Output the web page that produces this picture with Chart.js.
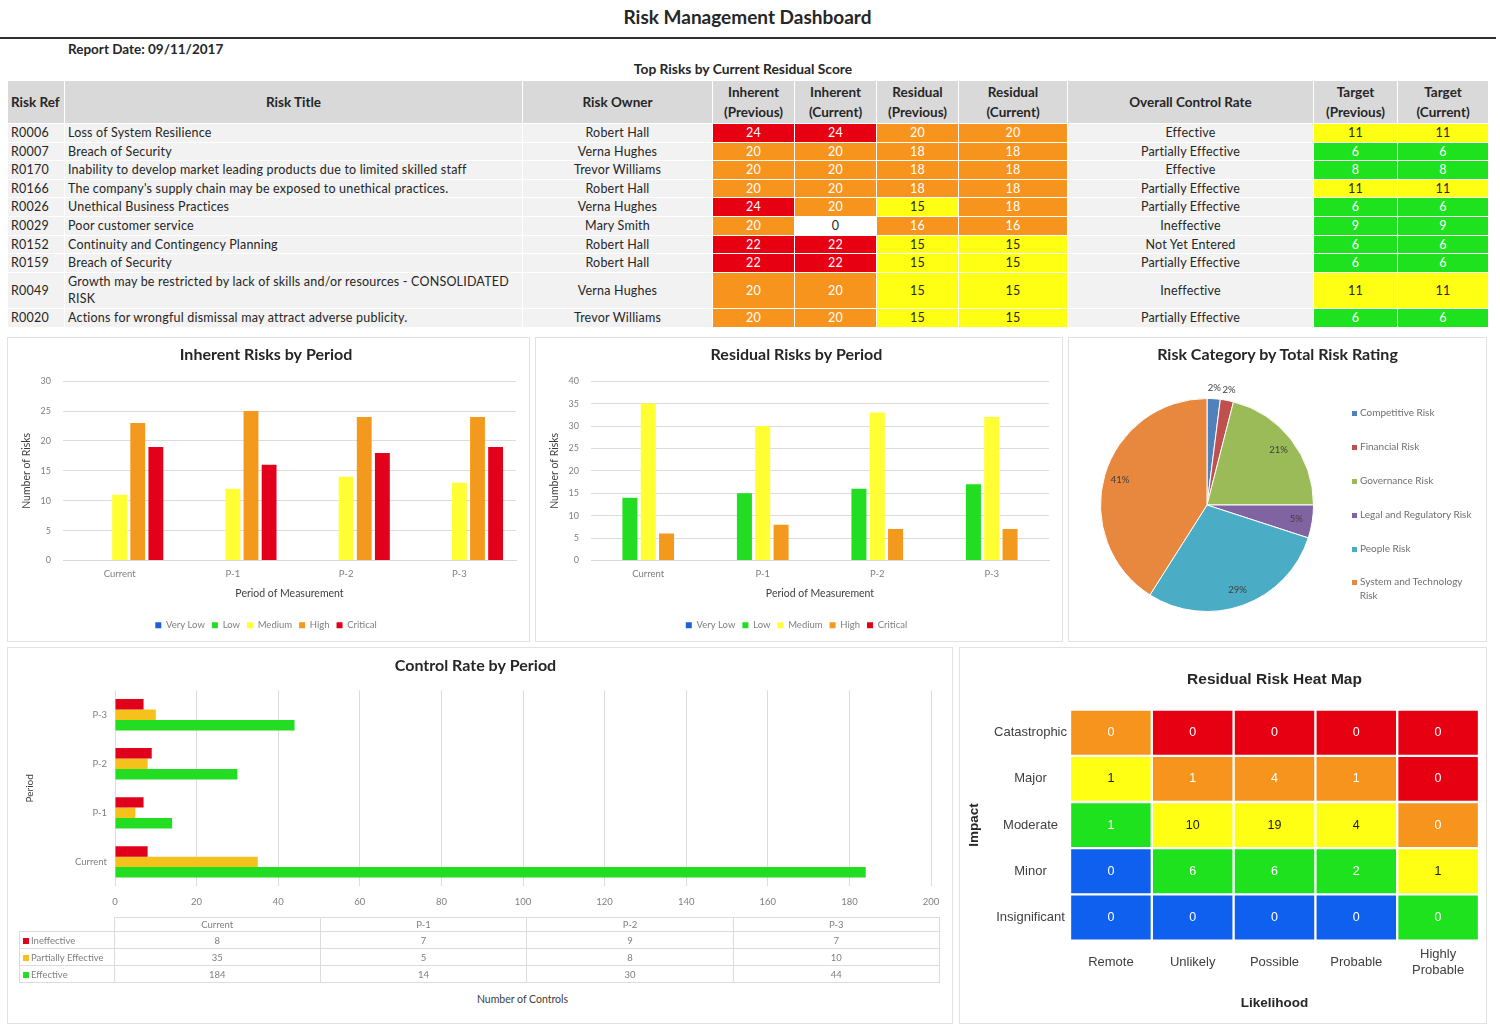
<!DOCTYPE html>
<html lang="en">
<head>
<meta charset="utf-8">
<title>Risk Management Dashboard</title>
<script src="https://cdn.jsdelivr.net/npm/chart.js@4.4.1/dist/chart.umd.min.js"></script>
<style>
  html, body { margin: 0; padding: 0; background: #fff; }
  body { width: 1500px; height: 1032px; position: relative; overflow: hidden;
         font-family: Lato, "Open Sans", sans-serif; color: #262626; }
  .abs { position: absolute; }
  .panel { position: absolute; border: 1px solid #e2e2e2; box-sizing: border-box; background: #fff; }
  .panel canvas { display: block; }
  #mainTitle { left: 0; top: 5px; width: 1495px; text-align: center; font-size: 19px; font-weight: bold; }
  #rule { left: 0; top: 37px; width: 1496px; height: 2px; background: #303030; }
  #reportDate { left: 68px; top: 41px; font-size: 13.5px; font-weight: bold; }
  #tableTitle { left: 0; top: 60px; width: 1486px; text-align: center; font-size: 13.8px; font-weight: bold; }
  #riskTable { left: 7px; top: 80px; width: 1481px; border-collapse: collapse; table-layout: fixed;
               font-size: 12.5px; letter-spacing: 0.2px; }
  #riskTable th { background: #d9d9d9; border: 1px solid #fff; font-weight: bold; line-height: 20px;
                  height: 42px; padding: 0 2px; font-size: 13.5px; letter-spacing: 0; text-align: center; }
  #riskTable th.ref { text-align: left; padding-left: 3px; }
  #riskTable td { background: #f2f2f2; border: 1px solid #fff; line-height: 17.6px; padding: 0 3px;
                  text-align: center; }
  #riskTable td.ref { text-align: left; }
  #riskTable td.title { text-align: left; padding-right: 1px; }
  #ctlTable { left: 19px; top: 917px; width: 921px; border-collapse: collapse; table-layout: fixed;
              font-size: 9.5px; color: #7f7f7f; }
  #ctlTable td { border: 1px solid #dcdcdc; height: 16px; padding: 0; text-align: center; }
  #ctlTable tr.hd td { height: 13px; }
  #ctlTable td.lab { text-align: left; padding-left: 3px; white-space: nowrap; }
  #ctlTable td.blank { border: none; border-right: 1px solid #dcdcdc; }
  .sw { display: inline-block; width: 6px; height: 6px; margin-right: 2px; }
  #ctlAxisTitle { left: 114px; width: 817px; top: 993px; text-align: center; font-size: 10.5px; color: #404040; }
  #pieTitle { left: 1068px; width: 419px; top: 344px; text-align: center; font-size: 16px; font-weight: bold; }
  .pieLeg { position: absolute; left: 1352px; font-size: 10px; color: #6f6f6f; line-height: 14px; width: 135px; }
  .pieLeg .sw { width: 5px; height: 5px; margin-right: 3px; }
</style>
</head>
<body>
<div id="mainTitle" class="abs">Risk Management Dashboard</div>
<div id="rule" class="abs"></div>
<div id="reportDate" class="abs">Report Date: 09/11/2017</div>
<div id="tableTitle" class="abs">Top Risks by Current Residual Score</div>

<table id="riskTable" class="abs">
  <colgroup>
    <col style="width:57px"><col style="width:458px"><col style="width:190px">
    <col style="width:82px"><col style="width:82px"><col style="width:82px"><col style="width:109px">
    <col style="width:246px"><col style="width:84px"><col style="width:91px">
  </colgroup>
  <thead>
    <tr>
      <th class="ref">Risk Ref</th><th>Risk Title</th><th>Risk Owner</th>
      <th>Inherent<br>(Previous)</th><th>Inherent<br>(Current)</th>
      <th>Residual<br>(Previous)</th><th>Residual<br>(Current)</th>
      <th>Overall Control Rate</th><th>Target<br>(Previous)</th><th>Target<br>(Current)</th>
    </tr>
  </thead>
  <tbody></tbody>
</table>

<div class="panel" style="left:7px;top:337px;width:523px;height:305px;"><canvas id="inherentChart"></canvas></div>
<div class="panel" style="left:535px;top:337px;width:528px;height:305px;"><canvas id="residualChart"></canvas></div>
<div class="panel" style="left:1068px;top:337px;width:419px;height:305px;"><canvas id="pieChart"></canvas></div>
<div id="pieTitle" class="abs">Risk Category by Total Risk Rating</div>
<div id="pieLegend"></div>
<div class="panel" style="left:7px;top:647px;width:946px;height:377px;">
  <div style="position:absolute;left:0;top:0;width:944px;height:270px;"><canvas id="controlChart"></canvas></div>
</div>
<table id="ctlTable" class="abs"><tbody></tbody></table>
<div id="ctlAxisTitle" class="abs">Number of Controls</div>
<div class="panel" style="left:959px;top:647px;width:528px;height:377px;"><canvas id="heatChart"></canvas></div>

<script>
// ---- top risks table ----
const riskRefs = ['R0006', 'R0007', 'R0170', 'R0166', 'R0026', 'R0029', 'R0152', 'R0159', 'R0049', 'R0020'];
const riskTitles = [
  'Loss of System Resilience',
  'Breach of Security',
  'Inability to develop market leading products due to limited skilled staff',
  "The company's supply chain may be exposed to unethical practices.",
  'Unethical Business Practices',
  'Poor customer service',
  'Continuity and Contingency Planning',
  'Breach of Security',
  'Growth may be restricted by lack of skills and/or resources - CONSOLIDATED RISK',
  'Actions for wrongful dismissal may attract adverse publicity.'
];
const riskOwners = ['Robert Hall', 'Verna Hughes', 'Trevor Williams', 'Robert Hall', 'Verna Hughes',
  'Mary Smith', 'Robert Hall', 'Robert Hall', 'Verna Hughes', 'Trevor Williams'];
const inherentPrev = [24, 20, 20, 20, 24, 20, 22, 22, 20, 20];
const inherentCur = [24, 20, 20, 20, 20, 0, 22, 22, 20, 20];
const residualPrev = [20, 18, 18, 18, 15, 16, 15, 15, 15, 15];
const residualCur = [20, 18, 18, 18, 18, 16, 15, 15, 15, 15];
const controlRates = ['Effective', 'Partially Effective', 'Effective', 'Partially Effective', 'Partially Effective',
  'Ineffective', 'Not Yet Entered', 'Partially Effective', 'Ineffective', 'Partially Effective'];
const targetPrev = [11, 6, 8, 11, 6, 9, 6, 6, 11, 6];
const targetCur = [11, 6, 8, 11, 6, 9, 6, 6, 11, 6];

// ---- risks by period ----
const periods = ['Current', 'P-1', 'P-2', 'P-3'];
const levels = ['Very Low', 'Low', 'Medium', 'High', 'Critical'];
const inherentVeryLow = [0, 0, 0, 0];
const inherentLow = [0, 0, 0, 0];
const inherentMedium = [11, 12, 14, 13];
const inherentHigh = [23, 25, 24, 24];
const inherentCritical = [19, 16, 18, 19];
const residualVeryLow = [0, 0, 0, 0];
const residualLow = [14, 15, 16, 17];
const residualMedium = [35, 30, 33, 32];
const residualHigh = [6, 8, 7, 7];
const residualCritical = [0, 0, 0, 0];

// ---- risk category (percent of total) ----
const categories = ['Competitive Risk', 'Financial Risk', 'Governance Risk', 'Legal and Regulatory Risk',
  'People Risk', 'System and Technology Risk'];
const categoryShare = [2, 2, 21, 5, 29, 41];

// ---- control rate ----
const controlSeries = ['Ineffective', 'Partially Effective', 'Effective'];
const ineffective = [8, 7, 9, 7];
const partiallyEffective = [35, 5, 8, 10];
const effective = [184, 14, 30, 44];

// ---- heat map ----
const likelihoods = ['Remote', 'Unlikely', 'Possible', 'Probable', 'Highly Probable'];
const impacts = ['Catastrophic', 'Major', 'Moderate', 'Minor', 'Insignificant'];
const heatCounts = [
  [0, 0, 0, 0, 0],
  [1, 1, 4, 1, 0],
  [1, 10, 19, 4, 0],
  [0, 6, 6, 2, 1],
  [0, 0, 0, 0, 0]
];
// rating: 0 very low, 1 low, 2 medium, 3 high, 4 critical
const heatRatings = [
  [3, 4, 4, 4, 4],
  [2, 3, 3, 3, 4],
  [1, 2, 2, 2, 3],
  [0, 1, 1, 1, 2],
  [0, 0, 0, 0, 1]
];

const levelColors = ['#1f5fd8', '#22dd22', '#ffff33', '#f39a1e', '#e3001b'];
const cellColors = ['#1060f0', '#1ee21e', '#ffff14', '#f7941d', '#e60012'];
const pieColors = ['#4f81bd', '#c0504d', '#9bbb59', '#8064a2', '#4bacc6', '#e8873e'];
const controlColors = ['#e0001b', '#f5c21c', '#22dd22'];

function scoreRating(v) {
  if (v >= 21) return 4;
  if (v >= 16) return 3;
  if (v >= 10) return 2;
  if (v >= 1) return 1;
  return -1;
}

// build the top risk table
const tbody = document.querySelector('#riskTable tbody');
riskRefs.forEach((ref, i) => {
  const tr = document.createElement('tr');
  const cells = [
    { text: ref, cls: 'ref' },
    { text: riskTitles[i], cls: 'title' },
    { text: riskOwners[i] },
    { score: inherentPrev[i] }, { score: inherentCur[i] },
    { score: residualPrev[i] }, { score: residualCur[i] },
    { text: controlRates[i] },
    { score: targetPrev[i] }, { score: targetCur[i] }
  ];
  cells.forEach(c => {
    const td = document.createElement('td');
    if (c.cls) td.className = c.cls;
    if (c.score !== undefined) {
      td.textContent = c.score;
      const r = scoreRating(c.score);
      if (r < 0) {
        td.style.background = '#ffffff';
      } else {
        td.style.background = cellColors[r];
        td.style.color = r === 2 ? '#262626' : '#ffffff';
      }
    } else {
      td.textContent = c.text;
    }
    tr.appendChild(td);
  });
  tbody.appendChild(tr);
});

// control data table
const ctlBody = document.querySelector('#ctlTable tbody');
let rowsHtml = '<tr class="hd"><td class="blank" style="width:94px"></td>' +
  periods.map(p => '<td>' + p + '</td>').join('') + '</tr>';
[ineffective, partiallyEffective, effective].forEach((vals, k) => {
  rowsHtml += '<tr><td class="lab"><span class="sw" style="background:' + controlColors[k] + '"></span>' +
    controlSeries[k] + '</td>' + vals.map(v => '<td>' + v + '</td>').join('') + '</tr>';
});
ctlBody.innerHTML = rowsHtml;

// pie legend
const legY = [405, 439, 473, 507, 541, 574];
document.getElementById('pieLegend').innerHTML = categories.map((c, i) =>
  '<div class="pieLeg" style="top:' + legY[i] + 'px"><span class="sw" style="background:' + pieColors[i] +
  '"></span>' + (i === 5 ? 'System and Technology<br>&nbsp;&nbsp;&nbsp;Risk' : c) + '</div>').join('');

Chart.defaults.font.family = 'Lato, "Open Sans", sans-serif';
Chart.defaults.color = '#7f7f7f';
Chart.defaults.animation = false;

function riskBarChart(id, title, series, yMax) {
  new Chart(document.getElementById(id), {
    type: 'bar',
    data: {
      labels: periods,
      datasets: levels.map((l, i) => ({
        label: l,
        data: series[i],
        backgroundColor: levelColors[i],
        categoryPercentage: 0.8,
        barPercentage: 0.82
      }))
    },
    options: {
      responsive: true,
      maintainAspectRatio: false,
      layout: { padding: { left: 8, right: 13, top: 3, bottom: 1 } },
      plugins: {
        title: { display: true, text: title, color: '#262626', font: { size: 16, weight: 'bold' },
                 padding: { top: 4, bottom: 17 } },
        legend: { position: 'bottom',
                  labels: { boxWidth: 6, boxHeight: 6, font: { size: 9.5 }, color: '#7f7f7f', padding: 7 } },
        tooltip: { enabled: false }
      },
      scales: {
        x: {
          grid: { display: false, drawTicks: false },
          border: { color: '#d9d9d9' },
          ticks: { font: { size: 9.5 }, color: '#7f7f7f', padding: 7.5 },
          title: { display: true, text: 'Period of Measurement', color: '#404040', font: { size: 10.5 },
                   padding: { top: 0, bottom: 14 } }
        },
        y: {
          min: 0, max: yMax,
          ticks: { stepSize: 5, font: { size: 9 }, color: '#7f7f7f', padding: 12 },
          grid: { color: '#dcdcdc', drawTicks: false },
          border: { display: false },
          title: { display: true, text: 'Number of Risks', color: '#404040', font: { size: 10.5 } },
          afterFit: s => { s.width = 47; }
        }
      }
    }
  });
}

riskBarChart('inherentChart', 'Inherent Risks by Period',
  [inherentVeryLow, inherentLow, inherentMedium, inherentHigh, inherentCritical], 30);
riskBarChart('residualChart', 'Residual Risks by Period',
  [residualVeryLow, residualLow, residualMedium, residualHigh, residualCritical], 40);

// pie
const pieLabels = {
  id: 'pieLabels',
  afterDatasetsDraw(chart) {
    const ctx = chart.ctx;
    const meta = chart.getDatasetMeta(0);
    const vals = chart.data.datasets[0].data;
    const total = vals.reduce((a, b) => a + b, 0);
    ctx.save();
    ctx.font = '9.5px Lato';
    ctx.fillStyle = '#404040';
    ctx.textAlign = 'center';
    ctx.textBaseline = 'middle';
    meta.data.forEach((arc, i) => {
      const pct = Math.round(vals[i] / total * 100);
      const mid = (arc.startAngle + arc.endAngle) / 2;
      const r = pct < 4 ? arc.outerRadius + 11 : arc.outerRadius * 0.85;
      ctx.fillText(pct + '%', arc.x + Math.cos(mid) * r, arc.y + Math.sin(mid) * r);
    });
    ctx.restore();
  }
};

new Chart(document.getElementById('pieChart'), {
  type: 'pie',
  data: {
    labels: categories,
    datasets: [{ data: categoryShare, backgroundColor: pieColors, borderColor: '#ffffff', borderWidth: 1,
                 hoverOffset: 0 }]
  },
  options: {
    responsive: true,
    maintainAspectRatio: false,
    layout: { padding: { left: 31, right: 172, top: 45, bottom: 14 } },
    plugins: {
      legend: { display: false },
      tooltip: { enabled: false }
    }
  },
  plugins: [pieLabels]
});

// control rate (horizontal, Current at the bottom)
const ctlLabels = periods.slice().reverse();
new Chart(document.getElementById('controlChart'), {
  type: 'bar',
  data: {
    labels: ctlLabels,
    datasets: [ineffective, partiallyEffective, effective].map((vals, k) => ({
      label: controlSeries[k],
      data: vals.slice().reverse(),
      backgroundColor: controlColors[k],
      categoryPercentage: 0.64,
      barPercentage: 1
    }))
  },
  options: {
    indexAxis: 'y',
    responsive: true,
    maintainAspectRatio: false,
    layout: { padding: { left: 12, right: 21, top: 6, bottom: 1 } },
    plugins: {
      title: { display: true, text: 'Control Rate by Period', color: '#262626', font: { size: 16, weight: 'bold' },
               padding: { top: 2, bottom: 15 } },
      legend: { display: false },
      tooltip: { enabled: false }
    },
    scales: {
      x: {
        min: 0, max: 200,
        ticks: { stepSize: 20, font: { size: 9.5 }, color: '#7f7f7f', padding: 9.6 },
        grid: { color: '#dcdcdc', drawTicks: false },
        border: { display: false }
      },
      y: {
        grid: { display: false, drawTicks: false },
        border: { display: false },
        ticks: { font: { size: 9.5 }, color: '#7f7f7f', padding: 8 },
        title: { display: true, text: 'Period', color: '#404040', font: { size: 10 } },
        afterFit: s => { s.width = 95; }
      }
    }
  }
});

// heat map as stacked unit bars, one dataset per impact row (bottom row first)
const heatLabels = {
  id: 'heatLabels',
  afterDatasetsDraw(chart) {
    const ctx = chart.ctx;
    ctx.save();
    ctx.font = '12.5px "Liberation Sans", Arial, sans-serif';
    ctx.textAlign = 'center';
    ctx.textBaseline = 'middle';
    chart.data.datasets.forEach((ds, d) => {
      const row = impacts.length - 1 - d;
      chart.getDatasetMeta(d).data.forEach((bar, c) => {
        ctx.fillStyle = heatRatings[row][c] === 2 ? '#1a1a1a' : '#ffffff';
        ctx.fillText(String(heatCounts[row][c]), bar.x, (bar.y + bar.base) / 2);
      });
    });
    ctx.restore();
  }
};

const impactsBottomUp = impacts.slice().reverse();
const arial = '"Liberation Sans", Arial, sans-serif';
new Chart(document.getElementById('heatChart'), {
  type: 'bar',
  data: {
    labels: likelihoods,
    datasets: impactsBottomUp.map((imp, d) => {
      const row = impacts.length - 1 - d;
      return {
        label: imp,
        data: likelihoods.map(() => 1),
        backgroundColor: heatRatings[row].map(k => cellColors[k]),
        borderColor: '#ffffff',
        borderWidth: 1.5,
        borderSkipped: false,
        categoryPercentage: 1,
        barPercentage: 1
      };
    })
  },
  options: {
    responsive: true,
    maintainAspectRatio: false,
    layout: { padding: { left: 2, right: 7, top: 10, bottom: 8 } },
    plugins: {
      title: { display: true, fullSize: false, text: 'Residual Risk Heat Map', color: '#262626',
               font: { family: arial, size: 15.5, weight: 'bold' },
               padding: { top: 12, bottom: 21 } },
      legend: { display: false },
      tooltip: { enabled: false }
    },
    scales: {
      x: {
        stacked: true,
        grid: { display: false, drawTicks: false },
        border: { display: false },
        ticks: {
          font: { family: arial, size: 13 }, color: '#404040',
          padding: 14, maxRotation: 0, crossAlign: 'center',
          callback: function (v) {
            const l = this.getLabelForValue(v);
            return l.length > 10 ? l.split(' ') : l;
          }
        },
        title: { display: true, text: 'Likelihood', color: '#262626',
                 font: { family: arial, size: 13.5, weight: 'bold' },
                 padding: { top: -5, bottom: 4 } }
      },
      y: {
        stacked: true,
        min: 0, max: 5,
        grid: { display: false, drawTicks: false },
        border: { display: false },
        ticks: {
          stepSize: 0.5, autoSkip: false, padding: 3, crossAlign: 'center',
          font: { family: arial, size: 13 }, color: '#404040',
          callback: v => {
            const i = v - 0.5;
            return Number.isInteger(i) ? impactsBottomUp[i] : null;
          }
        },
        title: { display: true, text: 'Impact', color: '#262626',
                 font: { family: arial, size: 13.5, weight: 'bold' } },
        afterFit: s => { s.width = 108; }
      }
    }
  },
  plugins: [heatLabels]
});
</script>
</body>
</html>
